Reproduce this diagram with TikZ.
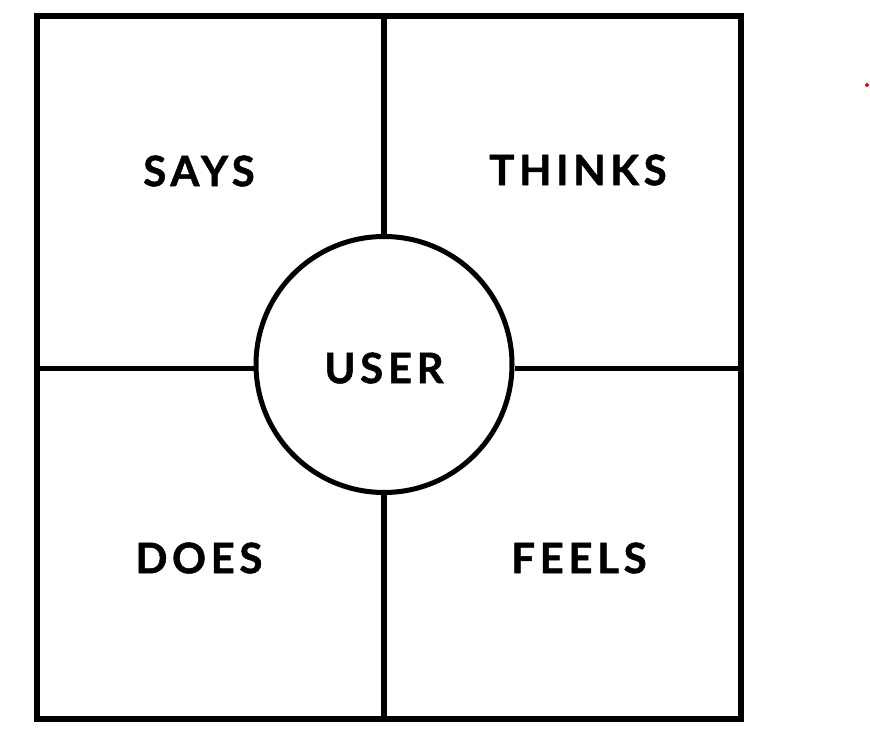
\documentclass[tikz,border=0pt]{standalone}
\usepackage{fontspec}
\setmainfont{Lato}[UprightFont=* Bold, LetterSpace=11, FakeBold=1.2]
\begin{document}
\begin{tikzpicture}[x=1pt,y=-1pt,
  frame/.style={line width=6pt},
  divider/.style={line width=5.5pt},
  label/.style={font=\fontsize{42}{42}\selectfont, inner sep=0pt, anchor=center}]
\useasboundingbox (0,0) rectangle (870,735);
\draw[frame] (37,16) rectangle (740.5,719);
\coordinate (top) at (384,16);
\coordinate (bot) at (384,719);
\coordinate (lft) at (37,368.5);
\coordinate (rgt) at (740.5,368.5);
\node[circle, draw, line width=5pt, minimum size=256pt, inner sep=0pt, fill=white] (user) at (384,364.5) {};
\draw[divider] (top) -- (user.north);
\draw[divider] (user.south) -- (bot);
\draw[divider] (lft) -- (lft -| user.west);
\draw[divider] (rgt -| user.east) -- (rgt);
\node[label] (u) at (384,368) {USER};
\node[label] (says) at (199,171) {SAYS};
\node[label] (thinks) at (578,170) {THINKS};
\node[label] (does) at (199,558) {DOES};
\node[label] (feels) at (579,558) {FEELS};
\fill[red] (867,85) circle (2);
\end{tikzpicture}
\end{document}
